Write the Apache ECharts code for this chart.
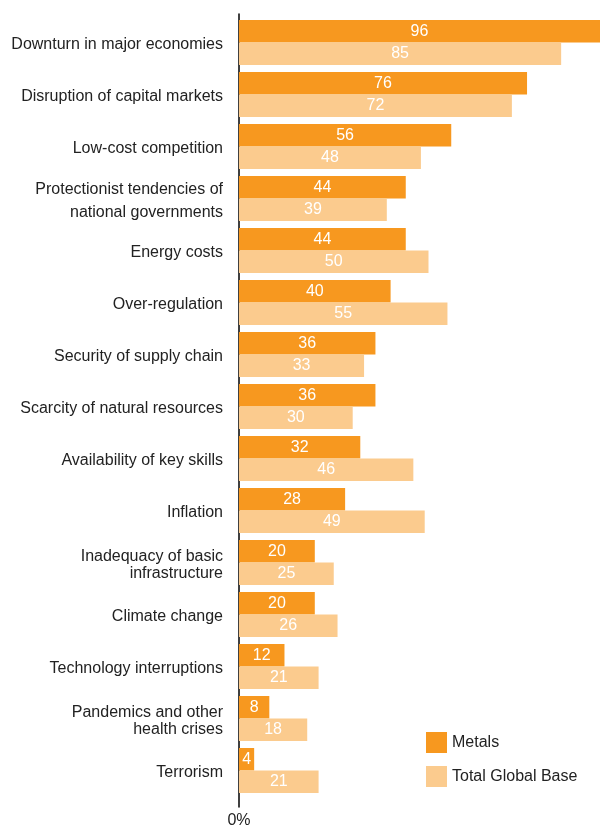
<!DOCTYPE html>
<html><head><meta charset="utf-8">
<script src="https://cdn.jsdelivr.net/npm/echarts@6/dist/echarts.min.js"></script>
<style>html,body{margin:0;padding:0;background:#fff}#c{width:600px;height:829px}</style>
</head><body><div id="c"></div>
<script>
const categories = [
  "Downturn in major economies",
  "Disruption of capital markets",
  "Low-cost competition",
  "Protectionist tendencies of\nnational governments",
  "Energy costs",
  "Over-regulation",
  "Security of supply chain",
  "Scarcity of natural resources",
  "Availability of key skills",
  "Inflation",
  "Inadequacy of basic\ninfrastructure",
  "Climate change",
  "Technology interruptions",
  "Pandemics and other\nhealth crises",
  "Terrorism"
];
const metals = [96, 76, 56, 44, 44, 40, 36, 36, 32, 28, 20, 20, 12, 8, 4];
const totalGlobalBase = [85, 72, 48, 39, 50, 55, 33, 30, 46, 49, 25, 26, 21, 18, 21];
const seriesNames = ["Metals", "Total Global Base"];
const axisZeroLabel = "0%";

const font = "'Liberation Sans', Arial, Helvetica, sans-serif";
const catData = categories.map(c => {
  let lh = 23;
  if (c.startsWith("Inadequacy") || c.startsWith("Pandemics")) lh = 17;
  return { value: c, textStyle: { lineHeight: lh } };
});

const chart = echarts.init(document.getElementById('c'), null, { renderer: 'canvas' });
const lbl = { show: true, position: 'inside', color: '#fff', fontSize: 16, fontFamily: font,
  textBorderWidth: 0, textBorderColor: 'transparent' };
const xMax = 95.25;
chart.setOption({
  animation: false,
  textStyle: { fontFamily: font },
  grid: [
    { left: 239, right: 0, top: 16.5, height: 780, containLabel: false },
    { left: 239, right: 0, top: 14, height: 794, containLabel: false },
    { left: 239, right: 0, top: 19, height: 780, containLabel: false }
  ],
  xAxis: [
    { gridIndex: 0, type: 'value', min: 0, max: xMax, show: false },
    { gridIndex: 1, type: 'value', min: 0, max: xMax, interval: xMax,
      axisLine: { show: false }, axisTick: { show: false }, splitLine: { show: false },
      axisLabel: { margin: 6, color: '#222', fontSize: 16, fontFamily: font,
        formatter: v => v === 0 ? axisZeroLabel : '' } },
    { gridIndex: 2, type: 'value', min: 0, max: xMax, show: false }
  ],
  yAxis: [
    { gridIndex: 0, type: 'category', data: categories, inverse: true, show: false },
    { gridIndex: 1, type: 'value', min: 0, max: 1,
      axisLine: { show: true, lineStyle: { color: '#000', width: 1.5 } },
      axisTick: { show: false }, axisLabel: { show: false }, splitLine: { show: false } },
    { gridIndex: 2, type: 'category', data: catData, inverse: true,
      axisLine: { show: false }, axisTick: { show: false },
      axisLabel: { margin: 16, color: '#222', fontSize: 16, fontFamily: font, align: 'right' } }
  ],
  legend: {
    orient: 'vertical', left: 426, top: 732, padding: 0, itemWidth: 21, itemHeight: 21, itemGap: 13,
    icon: 'rect', textStyle: { color: '#222', fontSize: 16, fontFamily: font },
    data: seriesNames
  },
  series: [
    { name: seriesNames[0], type: 'bar', xAxisIndex: 0, yAxisIndex: 0, data: metals,
      barWidth: 22.5, barGap: '0%', itemStyle: { color: '#F7981F' }, label: lbl },
    { name: seriesNames[1], type: 'bar', xAxisIndex: 0, yAxisIndex: 0, data: totalGlobalBase,
      barWidth: 22.5, barGap: '0%', itemStyle: { color: '#FBCB8E' }, label: lbl }
  ]
});
</script></body></html>
